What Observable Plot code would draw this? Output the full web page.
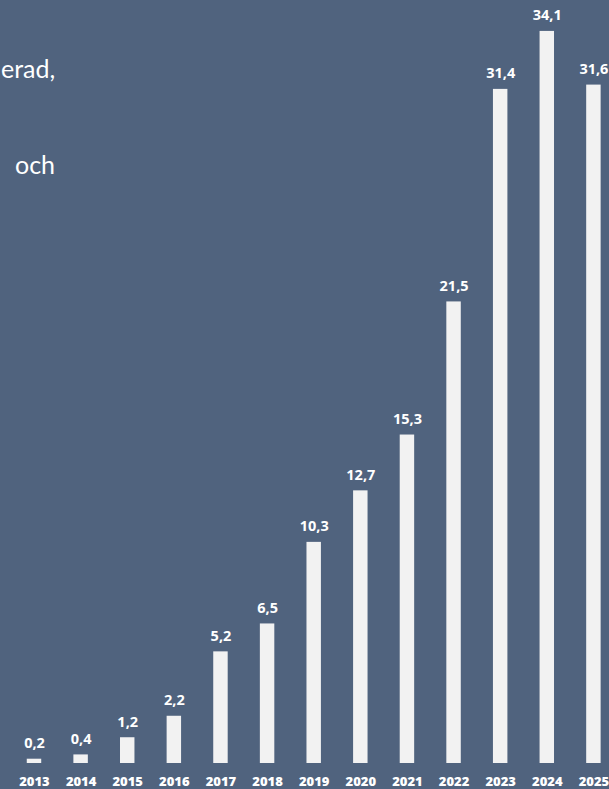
<!DOCTYPE html>
<html>
<head>
<meta charset="utf-8">
<script src="https://cdn.jsdelivr.net/npm/d3@7"></script>
<script src="https://cdn.jsdelivr.net/npm/@observablehq/plot@0.6"></script>
<style>
  html, body { margin: 0; padding: 0; background: #50637e; overflow: hidden; }
  #chart { position: relative; width: 609px; height: 789px; }
  .frag { position: absolute; color: #ffffff; font-family: Lato, "Open Sans", sans-serif; font-size: 25px; font-weight: 400; white-space: nowrap; }
</style>
</head>
<body>
<div id="chart"></div>
<script>
const years = ["2013","2014","2015","2016","2017","2018","2019","2020","2021","2022","2023","2024","2025"];
const values = [0.2, 0.4, 1.2, 2.2, 5.2, 6.5, 10.3, 12.7, 15.3, 21.5, 31.4, 34.1, 31.6];
const textFragments = ["erad,", "och"];

const data = years.map((y, i) => ({year: y, value: values[i]}));
const fmt = v => v.toFixed(1).replace(".", ",");

const chart = Plot.plot({
  width: 609,
  height: 789,
  marginTop: 0,
  marginBottom: 26,
  marginLeft: 0,
  marginRight: 0,
  style: {background: "#50637e", color: "#ffffff", fontFamily: "'Open Sans', sans-serif", overflow: "visible"},
  x: {domain: years, type: "band", padding: 0.69, round: false, range: [-5.4, 632.8], axis: null},
  y: {domain: [0, 35], range: [763, 11.6], axis: null},
  marks: [
    Plot.barY(data, {x: "year", y: "value", fill: "#f2f2f2"}),
    Plot.text(data, {x: "year", y: "value", text: d => fmt(d.value), lineAnchor: "bottom", dy: -11, fill: "#ffffff", fontSize: 14.5, fontWeight: "bold"}),
    Plot.axisX({tickSize: 0, tickPadding: 13, fontSize: 13, fontWeight: 800, color: "#ffffff", label: null})
  ]
});
const el = document.getElementById("chart");
el.appendChild(chart);
chart.style.position = "absolute";
chart.style.left = "0";
chart.style.top = "0";
const pos = [[1, 53], [15, 149]];
textFragments.forEach((t, i) => {
  const d = document.createElement("div");
  d.className = "frag";
  d.textContent = t;
  d.style.left = pos[i][0] + "px";
  d.style.top = pos[i][1] + "px";
  el.appendChild(d);
});
</script>
</body>
</html>
